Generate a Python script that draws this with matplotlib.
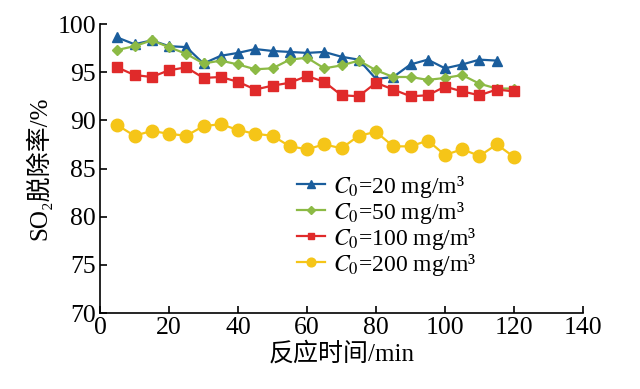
import matplotlib
matplotlib.use("Agg")
import matplotlib.pyplot as plt

plt.rcParams['font.family'] = ['Liberation Serif', 'DejaVu Serif', 'Noto Sans CJK SC']
plt.rcParams['mathtext.fontset'] = 'stix'

time_min = [5, 10, 15, 20, 25, 30, 35, 40, 45, 50, 55, 60, 65, 70, 75, 80,
            85, 90, 95, 100, 105, 110, 115, 120]
c20 = [98.6, 97.9, 98.3, 97.7, 97.6, 95.9, 96.7, 97.0, 97.4, 97.2, 97.1, 97.0,
       97.1, 96.6, 96.3, 94.3, 94.5, 95.8, 96.3, 95.4, 95.8, 96.3, 96.2]
c50 = [97.3, 97.7, 98.3, 97.6, 96.9, 95.9, 96.2, 95.8, 95.3, 95.4, 96.3, 96.5,
       95.4, 95.7, 96.2, 95.2, 94.5, 94.5, 94.2, 94.4, 94.7, 93.8, 93.3, 93.3]
c100 = [95.5, 94.7, 94.5, 95.2, 95.5, 94.4, 94.5, 94.0, 93.2, 93.6, 93.9, 94.6,
        94.0, 92.6, 92.5, 93.9, 93.2, 92.5, 92.6, 93.5, 93.0, 92.6, 93.2, 93.0]
c200 = [89.5, 88.4, 88.9, 88.6, 88.4, 89.4, 89.6, 89.0, 88.6, 88.4, 87.3, 87.0,
        87.5, 87.1, 88.4, 88.8, 87.3, 87.3, 87.9, 86.4, 87.0, 86.3, 87.5, 86.2]
labels = [r'$\it{C}_0$=20 mg/m³', r'$\it{C}_0$=50 mg/m³',
          r'$\it{C}_0$=100 mg/m³', r'$\it{C}_0$=200 mg/m³']
xticks = [0, 20, 40, 60, 80, 100, 120, 140]
yticks = [70, 75, 80, 85, 90, 95, 100]

fig = plt.figure(figsize=(6.4, 3.89), dpi=100)
ax = fig.add_axes([100/640, 76/389, 483/640, 289/389])

ax.plot(time_min[:len(c20)], c20, '-^', color='#1a5d9c', ms=7.5, lw=1.6, label=labels[0])
ax.plot(time_min, c50, '-D', color='#8cba45', ms=5.5, lw=1.6, label=labels[1])
ax.plot(time_min, c100, '-s', color='#e02a2a', ms=7, lw=1.6, label=labels[2])
ax.plot(time_min, c200, '-o', color='#f5c518', ms=9, lw=1.6, label=labels[3])

ax.set_xlim(0, 140)
ax.set_ylim(70, 100)
ax.set_xticks(xticks)
ax.set_yticks(yticks)
ax.spines['top'].set_visible(False)
ax.spines['right'].set_visible(False)
for s in ('left', 'bottom'):
    ax.spines[s].set_linewidth(1.2)
ax.tick_params(direction='in', length=5, width=1.2, labelsize=18.5, pad=3)

ax.set_xlabel('反应时间/min', fontsize=18, labelpad=2)
ax.set_ylabel('SO₂脱除率/%', fontsize=18, labelpad=4)

ax.legend(loc='upper left', bbox_to_anchor=(0.388, 0.515), frameon=False,
          fontsize=17, handlelength=1.2, handletextpad=0.35, labelspacing=0.0,
          markerscale=0.7, borderaxespad=0)

fig.savefig('out.png', dpi=100)
